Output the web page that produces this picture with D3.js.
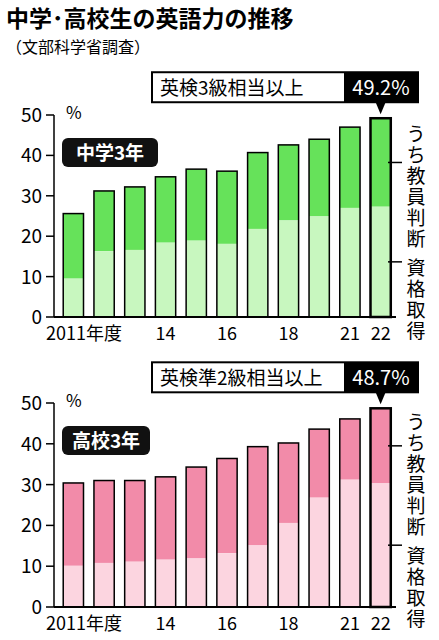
<!DOCTYPE html><html><head><meta charset="utf-8">
<script src="https://cdn.jsdelivr.net/npm/d3@7"></script>
<style>body{margin:0;background:#fff}text{font-family:"Noto Sans CJK JP",sans-serif}</style></head><body>
<script>
const years=["2011年度","12","13","14","15","16","17","18","19","21","22"];
const showLabel=["2011年度","","","14","","16","","18","","21","22"];
const jhTotal=[25.6,31.2,32.2,34.7,36.6,36.1,40.7,42.6,44.0,47.0,49.2];
const jhQual=[9.5,16.3,16.6,18.4,18.9,18.1,21.8,23.9,24.9,27.0,27.3];
const hsTotal=[30.4,31.0,31.0,31.9,34.3,36.4,39.3,40.2,43.6,46.1,48.7];
const hsQual=[10.1,10.8,11.1,11.6,11.9,13.2,15.1,20.6,26.8,31.2,30.3];
const yTicks=[0,10,20,30,40,50];
const W=439,H=640;
const svg=d3.select("body").append("svg").attr("width",W).attr("height",H);
svg.append("text").attr("x",6).attr("y",27).attr("font-size",23).attr("font-weight",700).text("中学･高校生の英語力の推移");
svg.append("text").attr("x",6).attr("y",53).attr("font-size",16).text("（文部科学省調査）");
function chart(o){
 const x=d3.scaleBand().domain(years).range([58,396]).paddingInner(0.34).paddingOuter(0.17);
 const y=d3.scaleLinear().domain([0,50]).range([o.y0,o.y50]);
 const g=svg.append("g");
 g.selectAll(".t").data(yTicks).join("text").attr("x",42).attr("y",d=>y(d)+7).attr("text-anchor","end").attr("font-size",19).text(d=>d);
 g.append("text").attr("x",66).attr("y",o.y50+4).attr("font-size",17).text("%");
 g.selectAll(".tk").data(yTicks).join("line").attr("x1",46).attr("x2",54).attr("y1",d=>y(d)).attr("y2",d=>y(d)).attr("stroke","#000").attr("stroke-width",1.5);
 g.append("line").attr("x1",54).attr("x2",54).attr("y1",y(0)).attr("y2",y(50)).attr("stroke","#000").attr("stroke-width",1.5);
 years.forEach((yr,i)=>{
  const bx=x(yr),bw=x.bandwidth();
  g.append("rect").attr("x",bx).attr("y",y(o.total[i])).attr("width",bw).attr("height",y(o.qual[i])-y(o.total[i])).attr("fill",o.c1);
  g.append("rect").attr("x",bx).attr("y",y(o.qual[i])).attr("width",bw).attr("height",y(0)-y(o.qual[i])).attr("fill",o.c2);
  g.append("rect").attr("x",bx).attr("y",y(o.total[i])).attr("width",bw).attr("height",y(0)-y(o.total[i])).attr("fill","none").attr("stroke","#000").attr("stroke-width",i==10?2.5:1.5);
 });
 g.append("line").attr("x1",54).attr("x2",396).attr("y1",y(0)).attr("y2",y(0)).attr("stroke","#000").attr("stroke-width",2);
 g.selectAll(".xl").data(years).join("text").attr("x",(d,i)=>i==0?46:x(d)+x.bandwidth()/2).attr("y",y(0)+23).attr("text-anchor",(d,i)=>i==0?"start":"middle").attr("font-size",18).text((d,i)=>showLabel[i]);
 const last=years[10],lx=x(last)+x.bandwidth()/2,ty=y(o.total[10]);
 g.append("rect").attr("x",152).attr("y",ty-46).attr("width",266).attr("height",30).attr("fill","#fff").attr("stroke","#000").attr("stroke-width",2);
 g.append("rect").attr("x",344).attr("y",ty-46).attr("width",74).attr("height",30).attr("fill","#000");
 g.append("path").attr("d",`M${lx-5},${ty-16}L${lx+5},${ty-16}L${lx},${ty-4}Z`).attr("fill","#000");
 g.append("text").attr("x",160).attr("y",ty-23).attr("font-size",19).text(o.label);
 g.append("text").attr("x",381).attr("y",ty-23).attr("text-anchor","middle").attr("fill","#fff").attr("font-size",20).text(o.total[10].toFixed(1)+"%");
 g.append("rect").attr("x",62).attr("y",o.by).attr("width",o.bw).attr("height",29).attr("rx",6).attr("fill","#111");
 g.append("text").attr("x",62+o.bw/2).attr("y",o.by+22).attr("text-anchor","middle").attr("fill","#fff").attr("font-size",19).attr("font-weight",700).text(o.grade);
 const m1=(o.total[10]+o.qual[10])/2,m2=o.qual[10]/2;
 [m1,m2].forEach(v=>g.append("line").attr("x1",388).attr("x2",402).attr("y1",y(v)).attr("y2",y(v)).attr("stroke","#000").attr("stroke-width",1.5));
 const vt=(s,top)=>s.split("").forEach((c,k)=>g.append("text").attr("x",416).attr("y",top+k*21).attr("text-anchor","middle").attr("font-size",19).text(c));
 vt("うち教員判断",y(50)+26);
 vt("資格取得",y(50)+26+6*21+8);
}
chart({y0:317,y50:115,total:jhTotal,qual:jhQual,c1:"#66e25a",c2:"#c8f7bf",label:"英検3級相当以上",grade:"中学3年",by:138,bw:96});
chart({y0:607,y50:403,total:hsTotal,qual:hsQual,c1:"#f28ba9",c2:"#fcd5e0",label:"英検準2級相当以上",grade:"高校3年",by:426,bw:88});
</script></body></html>
